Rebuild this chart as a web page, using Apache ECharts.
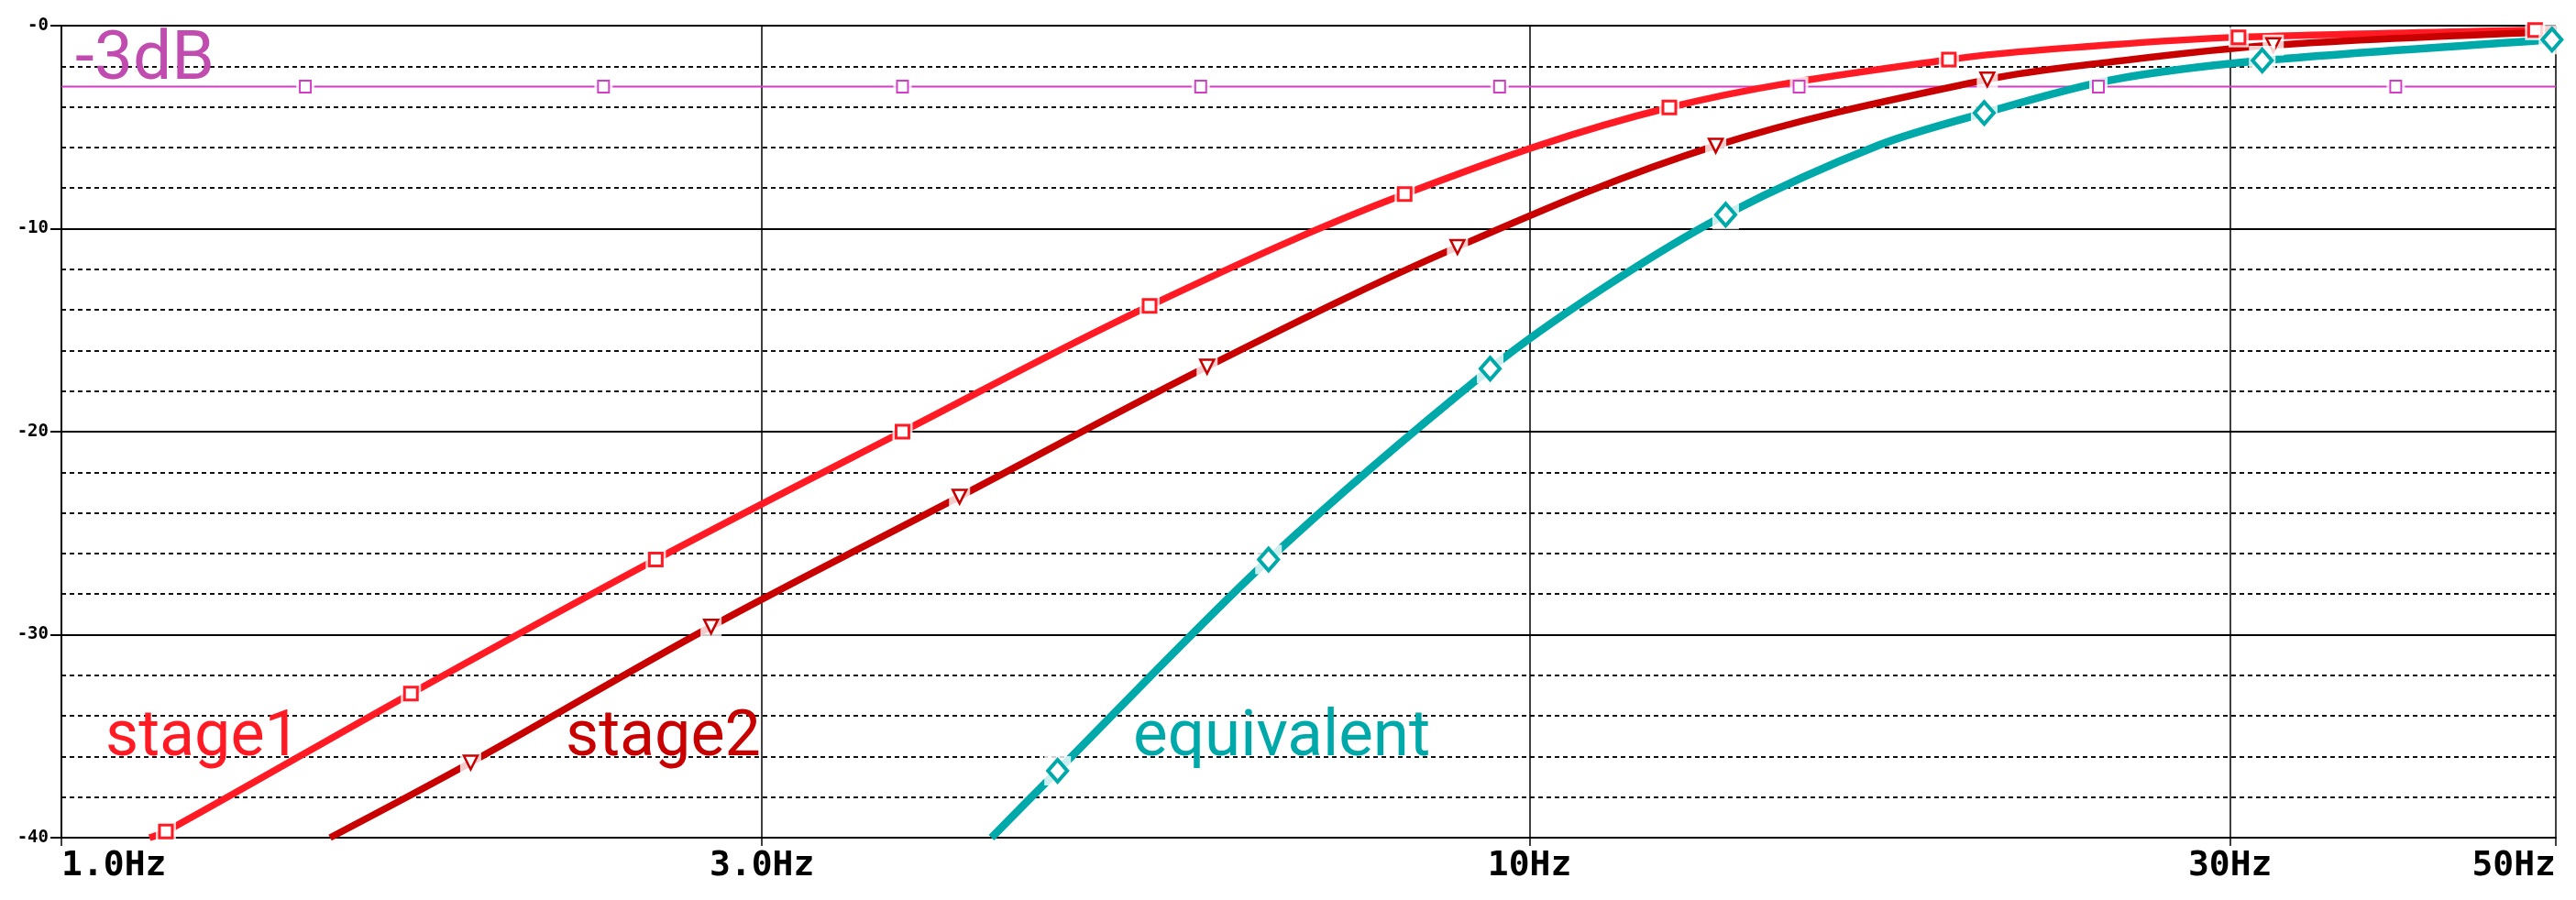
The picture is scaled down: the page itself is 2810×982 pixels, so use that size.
<!DOCTYPE html>
<html><head><meta charset="utf-8">
<script src="https://cdn.jsdelivr.net/npm/echarts@6/dist/echarts.min.js"></script>
<style>html,body{margin:0;padding:0;background:#fff}#c{width:2810px;height:982px}</style>
</head><body><div id="c"></div>
<script>
const xTickValues = [1, 3, 10, 30, 50];
const xTickLabels = ['1.0Hz', '3.0Hz', '10Hz', '30Hz', '50Hz'];
const yTickValues = [0, -10, -20, -30, -40];
const yTickLabels = ['-0', '-10', '-20', '-30', '-40'];

// curve points; points flagged 1 carry a marker
const stage1Freq = [1.148, 1.178, 1.73, 2.54, 3.74, 5.51, 8.22, 12.45, 19.3, 24.8, 30.4, 48.4, 50];
const stage1Db   = [-40, -39.7, -32.9, -26.3, -20.0, -13.8, -8.3, -4.03, -1.67, -0.95, -0.57, -0.22, -0.2];
const stage1Mark = [0, 1, 1, 1, 1, 1, 1, 1, 1, 0, 1, 1, 0];
const stage2Freq = [1.524, 1.90, 2.77, 4.09, 6.03, 8.93, 13.39, 20.5, 24.8, 32.1, 50];
const stage2Db   = [-40, -36.3, -29.6, -23.2, -16.8, -10.9, -5.91, -2.65, -1.8, -0.96, -0.3];
const stage2Mark = [0, 1, 1, 1, 1, 1, 1, 1, 0, 1, 0];
const equivFreq  = [4.30, 4.77, 6.64, 9.40, 11.24, 13.6, 17.3, 20.4, 24.8, 31.55, 49.7, 50];
const equivDb    = [-40, -36.7, -26.3, -16.9, -12.9, -9.31, -5.88, -4.30, -2.7, -1.72, -0.69, -0.68];
const equivMark  = [0, 1, 1, 1, 0, 1, 0, 1, 0, 1, 1, 0];
const m3Freq     = [1, 1.466, 2.34, 3.74, 5.97, 9.54, 15.26, 24.4, 38.9, 50];
const m3Db       = [-3, -3, -3, -3, -3, -3, -3, -3, -3, -3];
const m3Mark     = [0, 1, 1, 1, 1, 1, 1, 1, 1, 0];

const seriesNames = ['-3dB', 'stage1', 'stage2', 'equivalent'];

const pts = (fs, ds) => fs.map((f, i) => [f, ds[i]]);
const marks = (fs, ds, mk) => fs.map((f, i) => [f, ds[i]]).filter((p, i) => mk[i]);

const C1 = '#ff1a24', C2 = '#c80000', CE = '#00a9a9', CM = '#d23cc6', CMT = '#c04caf';

const traces = [
  { name: seriesNames[0], f: m3Freq, d: m3Db, m: m3Mark, color: CM, width: 2, smooth: false,
    symbol: 'rect', size: [12, 13], bw: 2, rot: 0 },
  { name: seriesNames[1], f: stage1Freq, d: stage1Db, m: stage1Mark, color: C1, width: 7.5, smooth: 0.35,
    symbol: 'rect', size: [14, 14], bw: 3, rot: 0 },
  { name: seriesNames[2], f: stage2Freq, d: stage2Db, m: stage2Mark, color: C2, width: 7.5, smooth: 0.35,
    symbol: 'triangle', size: [15, 15], bw: 2.5, rot: 180 },
  { name: seriesNames[3], f: equivFreq, d: equivDb, m: equivMark, color: CE, width: 8.5, smooth: 0.3,
    symbol: 'diamond', size: [21, 24], bw: 4, rot: 0 }
];

const series = [];
traces.forEach((t, k) => {
  series.push({
    name: t.name, type: 'line', data: pts(t.f, t.d), silent: true, showSymbol: false,
    smooth: t.smooth, lineStyle: { color: t.color, width: t.width }, z: 2 + k
  });
});
traces.forEach((t, k) => {
  // white knock-out behind each marker, then the marker itself
  series.push({
    name: t.name + ' gap', type: 'scatter', data: marks(t.f, t.d, t.m), silent: true, clip: false,
    symbol: 'rect', symbolSize: [t.size[0] + 8, t.size[1] + 8],
    itemStyle: { color: '#fff' }, z: 10 + 2 * k
  });
  series.push({
    name: t.name + ' marker', type: 'scatter', data: marks(t.f, t.d, t.m), silent: true, clip: false,
    symbol: t.symbol, symbolSize: t.size, symbolRotate: t.rot,
    itemStyle: { color: '#fff', borderColor: t.color, borderWidth: t.bw, opacity: 1 }, z: 11 + 2 * k
  });
});

const chart = echarts.init(document.getElementById('c'), null, { renderer: 'canvas' });
chart.setOption({
  animation: false,
  backgroundColor: '#fff',
  grid: { left: 67, right: 22, top: 28, bottom: 68 },
  xAxis: {
    type: 'log', logBase: 10, min: 1, max: 50,
    axisLine: { show: true, onZero: false, lineStyle: { color: '#000', width: 2 } },
    axisTick: { show: true, customValues: xTickValues, length: 9, lineStyle: { color: '#000', width: 1.5 } },
    axisLabel: {
      customValues: xTickValues, margin: 12, alignMinLabel: 'left', alignMaxLabel: 'right',
      showMinLabel: true, showMaxLabel: true,
      fontFamily: 'DejaVu Sans Mono', fontWeight: 'bold', fontSize: 38, color: '#000',
      formatter: v => { const i = xTickValues.findIndex(t => Math.abs(t - v) / t < 1e-6); return i >= 0 ? xTickLabels[i] : ''; }
    },
    splitLine: { show: true, lineStyle: { color: '#000', width: 1.5 } }
  },
  yAxis: {
    type: 'value', min: -40, max: 0, interval: 10,
    axisLine: { show: true, lineStyle: { color: '#000', width: 2 } },
    axisTick: { show: true, length: 12, lineStyle: { color: '#000', width: 2 } },
    axisLabel: {
      margin: 14, fontFamily: 'DejaVu Sans Mono', fontWeight: 'bold', fontSize: 19, color: '#000',
      formatter: v => { const i = yTickValues.indexOf(v); return i >= 0 ? yTickLabels[i] : String(v); }
    },
    splitLine: { show: true, lineStyle: { color: '#000', width: 2 } },
    minorTick: { show: false, splitNumber: 5 },
    minorSplitLine: { show: true, lineStyle: { color: '#111', width: 2, type: [5, 4] } }
  },
  series: series,
  graphic: [
    { type: 'text', left: 82, top: 30, z: 100, style: { text: seriesNames[0], font: '75px Roboto', fill: CMT } },
    { type: 'text', left: 115, top: 771, z: 100, style: { text: seriesNames[1], font: '70px Roboto', fill: C1 } },
    { type: 'text', left: 617, top: 771, z: 100, style: { text: seriesNames[2], font: '70px Roboto', fill: C2 } },
    { type: 'text', left: 1236, top: 771, z: 100, style: { text: seriesNames[3], font: '71px Roboto', fill: CE } }
  ]
});
</script>
</body></html>
